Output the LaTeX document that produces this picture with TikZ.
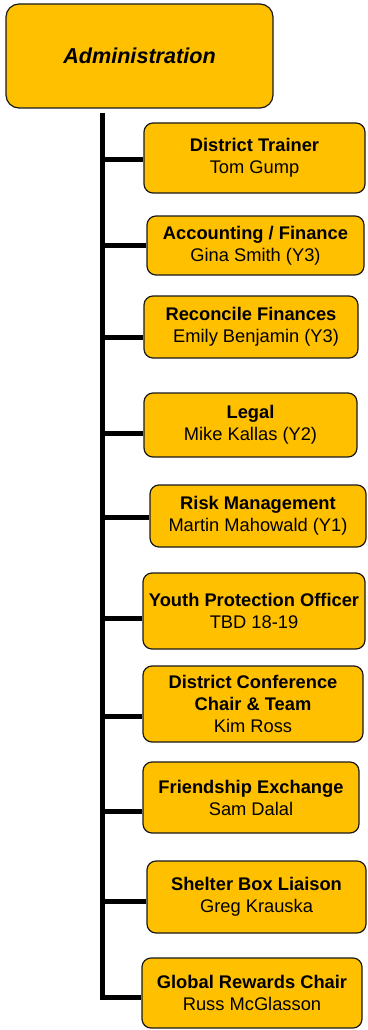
\documentclass[tikz,border=0pt]{standalone}
\usepackage{fontspec}
\setmainfont{Liberation Sans}
\definecolor{boxgold}{RGB}{255,192,0}
\tikzset{
  post/.style={draw=black!90, line width=1.2pt, fill=boxgold, rounded corners=9pt,
    align=center, inner sep=0pt, font=\fontsize{18.3}{22}\selectfont},
  branch/.style={line width=5pt},
}
\begin{document}
\begin{tikzpicture}[x=1pt,y=-1pt]
% \draw (0,0) grid (367,1030);
\useasboundingbox (0,0) rectangle (367,1030);
\node[post, minimum width=267pt, minimum height=104pt, rounded corners=13pt,
  font=\fontsize{21.6}{26}\selectfont\bfseries\itshape] (admin) at (139.5,56) {Administration};
\node[post, minimum width=221pt, minimum height=70pt] (trainer) at (254.5,158) {\textbf{District Trainer}\\Tom Gump};
\node[post, minimum width=217pt, minimum height=59pt] (finance) at (255.5,245.5) {\textbf{Accounting / Finance}\\Gina Smith (Y3)};
\node[post, minimum width=214pt, minimum height=62pt] (reconcile) at (251,327) {\textbf{Reconcile Finances}\\\ \ Emily Benjamin (Y3)};
\node[post, minimum width=213pt, minimum height=64pt] (legal) at (250.5,425) {\textbf{Legal}\\Mike Kallas (Y2)};
\node[post, minimum width=216pt, minimum height=62pt] (risk) at (258,516) {\textbf{Risk Management}\\Martin Mahowald (Y1)};
\node[post, minimum width=222pt, minimum height=76pt] (youth) at (254,611) {\textbf{Youth Protection Officer}\\TBD 18-19};
\node[post, minimum width=220pt, minimum height=76pt] (conference) at (253,704) {\textbf{District Conference}\\\textbf{Chair \& Team}\\Kim Ross};
\node[post, minimum width=216pt, minimum height=71pt] (exchange) at (251,797.5) {\textbf{Friendship Exchange}\\Sam Dalal};
\node[post, minimum width=219pt, minimum height=72pt] (shelter) at (256.5,897) {\textbf{Shelter Box Liaison}\\Greg Krauska};
\node[post, minimum width=220pt, minimum height=70pt] (rewards) at (252,993) {\textbf{Global Rewards Chair}\\Russ McGlasson};
% trunk and branches
\coordinate (trunk) at (102,113);
\draw[branch] (trunk) -- (trunk |- 0,997) -- (rewards.west |- 0,997);
\foreach \n/\y in {trainer/159, finance/245, reconcile/337, legal/433, risk/517,
  youth/618, conference/716, exchange/811, shelter/901}
  \draw[branch] (102,\y) -- (\n.west |- 0,\y);
\end{tikzpicture}
\end{document}
